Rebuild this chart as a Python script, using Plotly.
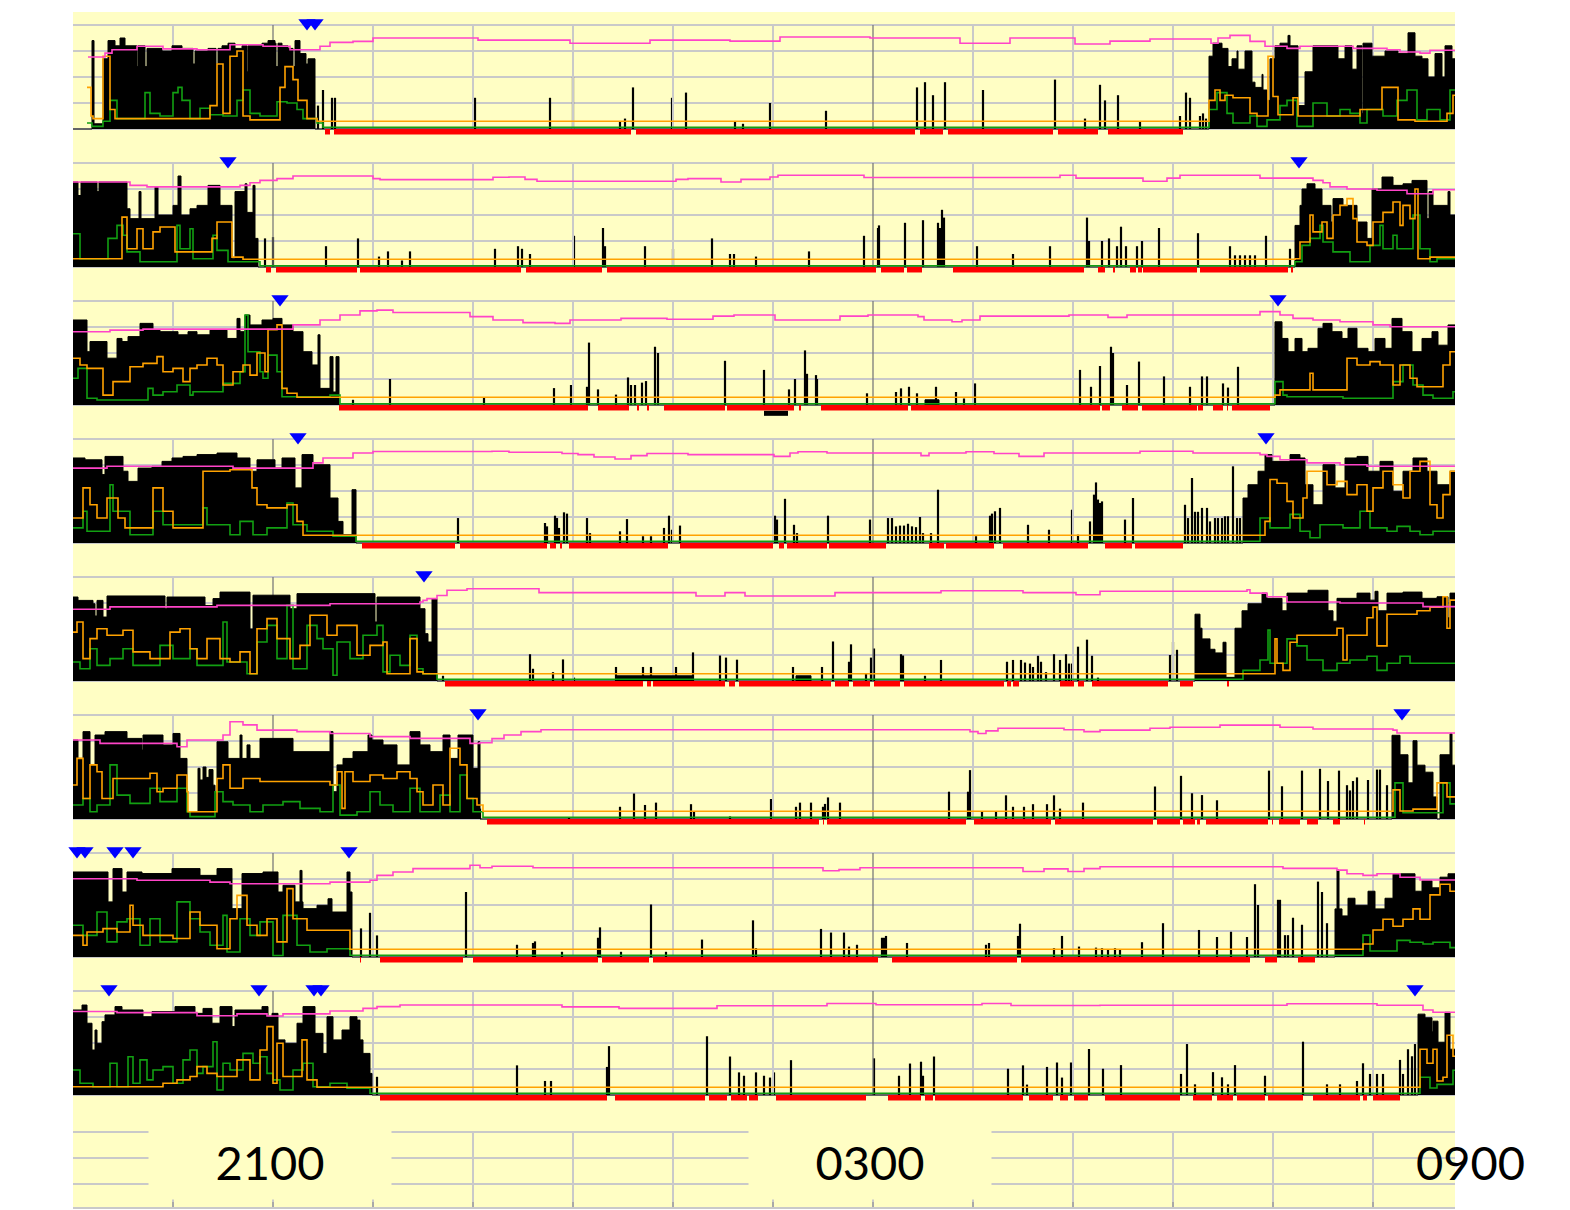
import plotly.graph_objects as go
from plotly.subplots import make_subplots

# ---------------- time axis (hours after 19:00) ----------------
GRID_HOURS = [1, 3, 4, 5, 6, 7, 9, 10, 11, 12, 13]
MAJOR_HOURS = [2, 8]
TICK_HOURS = [2, 8, 14]
TICK_LABELS = ["2100", "0300", "0900"]

# ---------------- night 1 ----------------
ACT1 = [(0.00,0),(0.19,3.4),(0.21,0.2),(0.30,2.7),(0.35,3.4),(0.42,3.2),(0.47,3.5),(0.52,3.2),(0.64,2.4),(0.65,3.2),(0.72,2.4),(0.74,3.1),(0.89,3.0),(0.99,3.2),(1.09,3.1),(1.20,2.5),(1.22,3.0),(1.35,3.1),(1.43,2.5),(1.45,3.1),(1.49,3.2),(1.55,3.3),(1.62,3.1),(1.69,3.2),(1.74,2.2),(1.75,3.2),(1.89,3.3),(1.95,3.4),(2.02,3.3),(2.03,2.4),(2.05,3.3),(2.09,3.2),(2.15,3.1),(2.20,2.4),(2.22,3.4),(2.27,2.9),(2.33,2.5),(2.35,2.7),(2.42,0),
        (11.36,2.8),(11.40,3.3),(11.49,3.1),(11.55,2.4),(11.59,2.7),(11.64,3.0),(11.65,2.3),(11.72,3.0),(11.79,1.8),(11.82,1.6),(11.89,2.1),(11.90,1.5),(11.94,1.1),(11.97,2.7),(12.02,3.2),(12.07,3.3),(12.15,3.6),(12.17,3.2),(12.25,0.9),(12.32,2.2),(12.40,3.2),(12.65,2.7),(12.72,3.2),(12.79,2.3),(12.84,3.2),(12.89,0.6),(12.90,3.3),(12.99,2.8),(13.12,3.0),(13.25,2.9),(13.35,3.7),(13.42,2.8),(13.49,2.7),(13.55,2.0),(13.62,2.9),(13.69,2.0),(13.72,3.2),(13.79,2.7),(13.90,2.7)]
SPK1 = [(2.45,0.9),(2.50,1.5),(2.59,1.2),(2.62,1.2),(4.02,1.2),(4.77,1.2),(5.00,2.0),(5.47,0.3),(5.52,0.4),(5.60,1.6),(5.99,1.2),(6.13,1.4),(6.62,0.3),(6.70,0.2),(6.97,1.0),(7.53,0.7),(8.44,1.6),(8.52,1.8),(8.60,1.3),(8.72,1.8),(9.10,1.5),(9.82,1.9),(10.12,0.4),(10.27,1.7),(10.32,1.1),(10.45,1.3),(10.67,0.3),(11.07,0.5),(11.13,1.4),(11.17,1.2),(11.27,0.5),(11.30,0.6),(11.33,0.4)]
ORG1 = [(0.14,1.6),(0.18,0.5),(0.20,0.4),(0.30,2.8),(0.37,0.75),(0.42,0.4),(1.37,0.9),(1.44,2.5),(1.50,0.6),(1.57,2.8),(1.64,3.0),(1.70,0.5),(1.77,0.35),(2.07,1.6),(2.12,2.4),(2.20,1.9),(2.25,1.1),(2.34,0.4),(2.44,0.3),(11.36,1.1),(11.42,1.5),(11.47,1.1),(11.52,1.3),(11.60,1.2),(11.77,0.6),(11.84,0.5),(11.95,2.8),(12.00,1.25),(12.05,0.55),(12.20,1.2),(12.25,0.5),(12.87,0.75),(13.09,1.6),(13.25,0.35),(13.42,0.3),(13.74,0.6),(13.80,1.3),(13.90,1.3)]
GRN1 = [(0.14,0.23),(0.19,0.1),(0.30,0.3),(0.37,1.1),(0.44,0.4),(0.72,1.4),(0.77,0.6),(0.87,0.5),(1.00,1.4),(1.05,1.6),(1.09,1.1),(1.17,0.4),(1.27,0.8),(1.37,0.55),(1.50,0.5),(1.64,1.1),(1.70,1.5),(1.77,0.6),(1.87,0.5),(2.04,1.05),(2.14,1.0),(2.24,0.75),(2.30,0.4),(2.44,0.23),(2.50,0.07),(11.36,0.75),(11.44,1.4),(11.54,0.6),(11.60,0.23),(11.77,0.5),(11.84,0.1),(11.94,0.35),(12.07,0.9),(12.14,1.1),(12.24,0.1),(12.40,1.0),(12.54,0.5),(12.67,0.75),(12.77,0.6),(12.87,0.23),(12.94,0.75),(13.10,0.5),(13.24,1.1),(13.34,1.5),(13.44,0.35),(13.54,0.75),(13.67,0.35),(13.77,1.5),(13.90,1.5)]
PNK1 = [(0.15,2.77),(0.32,2.92),(0.39,3.05),(0.64,3.18),(0.90,3.08),(1.24,3.05),(1.57,3.24),(1.90,3.18),(2.17,3.05),(2.47,3.18),(2.57,3.33),(2.80,3.37),(3.00,3.5),(4.05,3.42),(4.97,3.3),(5.77,3.42),(6.57,3.38),(7.07,3.54),(7.97,3.5),(8.87,3.3),(9.37,3.5),(10.02,3.27),(10.37,3.38),(10.77,3.46),(11.38,3.3),(11.45,3.5),(11.57,3.6),(11.77,3.37),(11.92,3.18),(12.14,3.1),(12.27,3.18),(12.80,3.1),(13.14,3.05),(13.27,2.96),(13.47,2.92),(13.57,3.03),(13.90,3.03)]
RED1 = [(2.52,2.57),(2.61,5.58),(5.63,8.42),(8.47,8.70),(8.75,9.80),(9.85,10.25),(10.35,11.10)]
MRK1 = [2.34, 2.42]
OFF1 = []

# ---------------- night 2 ----------------
ACT2 = [(0.00,3.27),(0.05,2.75),(0.08,3.27),(0.24,2.9),(0.26,3.27),(0.54,2.24),(0.57,1.86),(0.66,2.9),(0.68,1.86),(0.82,3.08),(0.85,2.0),(1.00,2.37),(1.05,3.5),(1.08,2.0),(1.17,2.24),(1.24,2.37),(1.35,3.14),(1.47,2.37),(1.59,0.32),(1.62,2.9),(1.72,3.2),(1.74,2.1),(1.80,3.14),(1.82,1.1),(1.85,0),
        (12.22,1.6),(12.27,2.37),(12.29,3.0),(12.34,3.2),(12.42,3.0),(12.49,2.37),(12.58,1.73),(12.60,2.63),(12.70,2.37),(12.84,1.73),(12.94,1.1),(12.99,3.0),(13.09,3.46),(13.20,3.14),(13.30,3.2),(13.39,3.33),(13.54,1.86),(13.56,2.9),(13.60,2.37),(13.75,2.9),(13.77,2.0),(13.90,2.0)]
SPK2 = [(1.92,1.1),(2.00,1.15),(2.53,0.8),(2.85,1.1),(3.06,0.4),(3.15,0.6),(3.29,0.25),(3.37,0.6),(4.22,0.7),(4.45,0.8),(4.49,0.7),(4.57,0.5),(5.01,1.2),(5.30,1.5),(5.32,0.8),(5.72,0.8),(6.00,0.7),(6.39,1.1),(6.57,0.5),(6.61,0.5),(6.83,0.4),(7.36,0.6),(7.91,1.2),(8.05,1.5),(8.06,1.6),(8.32,1.7),(8.50,1.8),(8.65,1.7),(8.67,1.5),(8.69,2.2),(8.71,1.9),(9.04,0.8),(9.40,0.5),(9.77,0.8),(10.14,1.9),(10.16,1.0),(10.29,1.0),(10.36,1.1),(10.44,0.8),(10.48,1.55),(10.53,0.8),(10.64,0.8),(10.69,1.0),(10.86,1.5),(11.25,1.3),(11.57,0.8),(11.62,0.45),(11.67,0.45),(11.72,0.45),(11.77,0.45),(11.82,0.45),(11.93,1.2),(12.17,0.7)]
ORG2 = [(0.00,0.32),(0.49,1.92),(0.54,0.7),(0.64,1.47),(0.70,0.7),(0.80,1.35),(0.87,1.54),(1.02,0.58),(1.39,1.1),(1.44,1.73),(1.59,0.38),(1.70,0.3),(12.22,0.32),(12.27,0.96),(12.37,2.0),(12.40,1.35),(12.49,1.73),(12.54,1.1),(12.60,2.0),(12.67,2.37),(12.74,2.63),(12.80,1.86),(12.84,0.96),(12.94,0.83),(13.00,1.73),(13.10,2.1),(13.20,2.5),(13.27,1.6),(13.30,2.37),(13.37,1.86),(13.42,3.0),(13.45,0.32),(13.57,0.38),(13.90,0.38)]
GRN2 = [(0.00,1.28),(0.07,0.32),(0.35,1.1),(0.44,1.6),(0.50,1.22),(0.54,0.58),(0.67,0.2),(1.04,1.6),(1.07,0.7),(1.17,1.47),(1.20,0.32),(1.40,1.22),(1.44,0.64),(1.55,0.2),(1.87,0.05),(12.22,0.2),(12.29,0.83),(12.37,1.1),(12.47,1.6),(12.50,0.96),(12.60,0.58),(12.77,0.2),(12.97,0.83),(13.07,1.6),(13.10,0.7),(13.20,1.22),(13.24,0.7),(13.40,2.0),(13.47,0.7),(13.57,0.2),(13.64,0.32),(13.90,0.32)]
PNK2 = [(0.00,3.27),(0.57,3.14),(0.74,3.08),(1.67,3.14),(1.77,3.24),(1.87,3.33),(2.04,3.4),(2.20,3.5),(3.00,3.4),(3.07,3.36),(4.20,3.45),(4.36,3.46),(4.52,3.37),(4.64,3.3),(6.03,3.37),(6.15,3.4),(6.48,3.27),(6.68,3.37),(6.97,3.46),(7.05,3.53),(7.91,3.44),(9.87,3.53),(10.03,3.42),(10.70,3.3),(10.94,3.42),(11.07,3.53),(11.87,3.42),(12.40,3.33),(12.50,3.24),(12.57,3.08),(12.74,3.0),(13.04,2.95),(13.34,2.82),(13.60,2.97),(13.90,2.97)]
RED2 = [(1.93,1.98),(2.03,2.84),(2.87,4.48),(4.53,5.29),(5.34,8.03),(8.08,8.31),(8.34,8.49),(8.80,10.11),(10.25,10.32),(10.40,10.42),(10.57,10.63),(10.65,10.69),(10.70,11.24),(11.27,12.15),(12.18,12.20)]
MRK2 = [1.55, 12.26]
OFF2 = []

# ---------------- night 3 ----------------
ACT3 = [(0.00,3.27),(0.14,2.05),(0.17,2.44),(0.34,1.8),(0.44,2.56),(0.49,2.44),(0.55,2.63),(0.67,3.14),(0.80,2.88),(0.87,2.82),(1.05,2.7),(1.15,2.82),(1.24,2.7),(1.37,2.88),(1.54,2.56),(1.64,3.33),(1.67,2.82),(1.72,3.46),(1.77,3.08),(1.89,3.27),(2.00,3.33),(2.09,3.08),(2.20,2.82),(2.30,2.05),(2.39,1.54),(2.45,2.7),(2.47,0.64),(2.57,1.86),(2.60,0.5),(2.63,1.86),(2.66,0),
        (8.52,0.2),(8.66,0),
        (12.02,3.2),(12.09,2.56),(12.15,2.05),(12.22,2.56),(12.29,2.05),(12.35,2.18),(12.45,2.95),(12.50,3.14),(12.59,2.82),(12.69,2.56),(12.75,2.95),(12.84,2.18),(12.95,2.05),(13.02,2.56),(13.12,2.18),(13.19,3.33),(13.29,2.82),(13.39,2.05),(13.49,2.56),(13.59,2.82),(13.65,2.3),(13.75,3.08),(13.90,3.08)]
SPK3 = [(2.80,0.2),(3.17,1.0),(4.11,0.3),(4.81,0.65),(4.98,0.77),(5.14,0.7),(5.16,2.4),(5.25,0.6),(5.43,0.4),(5.55,1.06),(5.58,0.77),(5.62,0.77),(5.69,0.86),(5.73,0.92),(5.82,2.24),(5.85,2.0),(6.52,1.7),(6.91,1.35),(7.16,0.6),(7.22,1.0),(7.32,2.1),(7.34,1.2),(7.43,1.15),(7.44,1.0),(7.94,0.45),(8.23,0.5),(8.28,0.64),(8.36,0.7),(8.44,0.45),(8.63,0.7),(8.83,0.5),(8.91,0.25),(9.02,0.83),(10.07,1.35),(10.18,0.7),(10.27,1.5),(10.38,2.24),(10.40,2.0),(10.54,0.77),(10.66,1.67),(10.91,1.1),(11.17,0.7),(11.29,1.1),(11.34,1.1),(11.50,0.83),(11.55,0.67),(11.65,1.47)]
ORG3 = [(0.00,1.8),(0.07,1.54),(0.14,1.41),(0.30,0.38),(0.40,0.9),(0.57,1.47),(0.70,1.6),(0.84,1.86),(0.90,1.28),(1.00,1.41),(1.10,0.9),(1.17,1.41),(1.24,1.54),(1.34,1.8),(1.44,1.54),(1.50,0.77),(1.60,1.28),(1.70,1.54),(1.77,1.15),(1.84,2.0),(1.92,1.28),(1.95,2.9),(2.04,3.08),(2.09,0.64),(2.14,0.45),(2.24,0.3),(12.02,0.38),(12.07,0.58),(12.37,1.22),(12.40,0.58),(12.74,1.8),(12.84,1.54),(12.97,1.67),(13.07,1.54),(13.20,0.77),(13.27,1.54),(13.37,1.03),(13.44,0.7),(13.70,1.54),(13.77,2.05),(13.90,2.05)]
GRN3 = [(0.00,1.03),(0.05,1.41),(0.14,0.26),(0.24,0.19),(0.75,0.64),(0.80,0.38),(0.90,0.51),(1.04,0.77),(1.17,0.38),(1.20,0.51),(1.50,0.83),(1.67,1.28),(1.72,3.46),(1.75,2.05),(1.87,1.28),(1.90,1.03),(1.95,1.92),(2.04,1.28),(2.09,0.32),(2.57,0.38),(2.67,0.05),(12.02,0.9),(12.10,0.38),(12.14,0.32),(12.70,0.26),(13.20,0.9),(13.30,1.54),(13.40,0.77),(13.50,0.38),(13.60,0.26),(13.80,0.51),(13.90,0.51)]
PNK3 = [(0.00,2.82),(0.37,2.88),(0.70,2.92),(2.20,3.08),(2.47,3.27),(2.67,3.46),(2.87,3.62),(3.04,3.65),(3.20,3.56),(3.97,3.4),(4.20,3.27),(4.50,3.17),(4.82,3.14),(4.97,3.27),(5.48,3.33),(5.94,3.3),(6.40,3.42),(6.61,3.46),(7.02,3.27),(7.67,3.42),(7.95,3.46),(8.45,3.4),(8.51,3.27),(8.79,3.2),(8.89,3.27),(9.07,3.42),(9.96,3.46),(10.35,3.37),(10.54,3.46),(11.87,3.59),(12.07,3.46),(12.20,3.33),(12.40,3.27),(12.67,3.2),(13.00,3.08),(13.17,3.01),(13.90,3.01)]
RED3 = [(2.66,5.15),(5.25,5.56),(5.64,5.66),(5.74,5.76),(5.91,6.52),(6.54,7.21),(7.26,7.28),(7.48,8.35),(8.38,10.27),(10.29,10.37),(10.49,10.65),(10.69,11.24),(11.25,11.30),(11.40,11.50),(11.54,11.55),(11.59,11.97)]
MRK3 = [2.07, 12.05]
OFF3 = [(6.91, 7.15)]

# ---------------- night 4 ----------------
ACT4 = [(0.00,3.27),(0.12,3.2),(0.29,2.63),(0.32,3.33),(0.50,2.76),(0.55,2.37),(0.65,2.88),(0.79,2.95),(0.89,3.14),(0.99,3.27),(1.10,3.33),(1.24,3.4),(1.44,3.46),(1.64,3.27),(1.77,2.76),(1.84,3.2),(2.02,2.88),(2.09,3.27),(2.22,2.12),(2.29,3.4),(2.40,3.01),(2.57,1.73),(2.65,0.83),(2.70,0.32),(2.79,2.05),(2.83,0),
        (11.70,1.73),(11.75,2.24),(11.85,2.76),(11.92,3.4),(11.99,3.14),(12.17,3.4),(12.27,3.27),(12.32,2.24),(12.40,1.47),(12.50,3.01),(12.62,2.12),(12.72,3.27),(12.84,3.33),(12.95,2.76),(13.07,3.14),(13.20,1.99),(13.30,2.76),(13.40,3.27),(13.54,2.76),(13.64,2.24),(13.77,2.76),(13.90,2.76)]
SPK4 = [(3.85,0.96),(4.72,0.77),(4.74,0.64),(4.82,1.05),(4.84,0.96),(4.86,0.58),(4.91,1.18),(4.94,1.13),(5.14,0.96),(5.17,0.38),(5.47,0.45),(5.54,0.92),(5.70,0.26),(5.78,0.26),(5.91,0.58),(5.96,1.05),(5.99,0.51),(6.07,0.67),(7.02,1.05),(7.04,0.9),(7.12,1.7),(7.21,0.7),(7.24,0.38),(7.55,1.05),(7.97,0.9),(8.15,0.96),(8.19,0.96),(8.23,0.64),(8.27,0.67),(8.31,0.67),(8.35,0.74),(8.39,0.64),(8.43,0.61),(8.47,1.0),(8.50,0.38),(8.58,0.38),(8.65,2.05),(9.03,0.26),(9.17,1.05),(9.19,1.13),(9.22,1.22),(9.27,1.35),(9.55,0.7),(9.76,0.51),(9.99,1.28),(10.05,0.32),(10.17,0.83),(10.21,1.86),(10.23,2.33),(10.25,1.67),(10.27,1.54),(10.29,1.6),(10.52,0.9),(10.60,1.73),(11.12,1.47),(11.15,0.96),(11.19,2.5),(11.22,1.2),(11.25,1.2),(11.29,1.35),(11.34,1.35),(11.37,0.83),(11.42,0.96),(11.45,0.96),(11.49,0.96),(11.52,1.03),(11.55,1.03),(11.60,2.95),(11.64,0.96),(11.67,0.96)]
ORG4 = [(0.00,0.96),(0.10,2.12),(0.17,1.47),(0.24,0.96),(0.34,1.73),(0.45,0.96),(0.52,0.58),(0.80,2.12),(0.90,1.22),(1.00,0.58),(1.30,2.76),(1.57,2.82),(1.79,2.12),(1.84,1.47),(1.94,1.35),(2.14,1.47),(2.24,0.83),(2.30,0.3),(11.92,0.83),(11.97,2.44),(12.04,2.3),(12.14,1.6),(12.20,0.96),(12.30,1.73),(12.34,2.76),(12.54,2.24),(12.64,2.37),(12.74,1.86),(12.84,2.24),(12.94,1.22),(13.00,2.12),(13.10,2.76),(13.20,2.24),(13.30,1.73),(13.37,2.76),(13.47,3.14),(13.57,1.47),(13.64,0.96),(13.70,1.86),(13.77,2.76),(13.90,2.76)]
GRN4 = [(0.00,0.58),(0.10,1.22),(0.14,0.45),(0.37,2.24),(0.40,1.22),(0.57,0.32),(0.80,1.22),(0.90,0.7),(1.30,1.35),(1.34,0.7),(1.57,0.32),(1.67,0.83),(1.80,0.32),(1.94,0.58),(2.14,1.54),(2.20,0.7),(2.34,0.45),(2.60,0.26),(2.83,0.07),(11.87,0.96),(11.97,0.58),(12.17,1.1),(12.27,0.45),(12.37,0.2),(12.47,0.7),(12.70,0.58),(12.87,1.22),(12.97,0.58),(13.14,0.45),(13.24,0.64),(13.37,0.45),(13.47,0.32),(13.60,0.45),(13.90,0.45)]
PNK4 = [(0.00,2.88),(0.34,2.95),(1.60,2.88),(2.40,3.08),(2.50,3.27),(2.80,3.46),(3.00,3.52),(4.19,3.53),(4.36,3.49),(4.89,3.44),(5.05,3.4),(5.21,3.31),(5.42,3.23),(5.58,3.36),(5.74,3.44),(6.15,3.4),(7.01,3.33),(7.17,3.46),(7.25,3.51),(7.54,3.46),(8.48,3.36),(8.56,3.46),(8.93,3.51),(9.21,3.44),(9.46,3.33),(9.71,3.46),(10.67,3.53),(11.20,3.46),(11.87,3.4),(11.94,3.33),(12.07,3.2),(12.34,3.08),(12.67,3.01),(12.94,2.95),(13.90,2.95)]
RED4 = [(2.89,3.82),(3.87,4.74),(4.77,4.83),(4.87,4.89),(4.96,5.95),(6.07,7.00),(7.06,7.11),(7.14,7.54),(7.56,8.13),(8.56,8.71),(8.73,9.21),(9.30,10.15),(10.32,10.59),(10.62,11.10)]
MRK4 = [2.25, 11.93]
OFF4 = []

# ---------------- night 5 ----------------
ACT5 = [(0.00,3.23),(0.05,3.1),(0.20,2.97),(0.22,2.5),(0.24,3.1),(0.30,2.46),(0.34,3.27),(0.92,2.78),(0.94,3.23),(1.32,2.9),(1.40,3.17),(1.47,3.42),(1.77,2.0),(1.80,3.3),(2.17,2.78),(2.24,3.36),(3.02,2.27),(3.04,3.23),(3.47,2.78),(3.52,1.82),(3.55,1.5),(3.59,3.17),(3.64,0),
        (5.43,0.2),(6.20,0),(7.23,0.2),(7.38,0),
        (11.22,2.57),(11.27,2.03),(11.29,1.62),(11.37,1.22),(11.42,1.08),(11.50,1.49),(11.53,0.14),(11.62,2.03),(11.69,2.7),(11.75,2.97),(11.89,3.38),(11.94,3.18),(12.09,2.7),(12.14,3.38),(12.35,3.49),(12.55,2.7),(12.60,2.3),(12.64,3.18),(12.84,3.38),(12.97,3.11),(13.02,3.45),(13.05,2.7),(13.14,3.38),(13.30,3.42),(13.49,3.18),(13.64,3.24),(13.75,2.43),(13.77,3.38),(13.90,3.38)]
SPK5 = [(3.70,0.2),(4.57,1.03),(4.60,0.47),(4.80,0.34),(4.90,0.83),(5.01,0.13),(5.43,0.54),(5.70,0.54),(5.78,0.54),(6.03,0.54),(6.20,1.1),(6.47,0.98),(6.53,0.9),(6.64,0.82),(7.20,0.54),(7.49,0.54),(7.60,1.52),(7.76,0.74),(7.78,1.41),(7.93,0.3),(7.98,0.9),(8.01,1.25),(8.28,1.03),(8.30,0.98),(8.52,0.2),(8.68,0.81),(9.34,0.74),(9.40,0.81),(9.48,0.81),(9.52,0.71),(9.57,0.67),(9.60,0.54),(9.65,0.97),(9.68,0.74),(9.73,0.34),(9.81,1.03),(9.87,0.81),(9.93,1.03),(9.96,0.67),(9.99,0.67),(10.05,1.32),(10.14,1.59),(10.19,0.97),(10.25,0.13),(10.97,1.0),(11.00,1.5),(11.04,1.2)]
ORG5 = [(0.00,1.88),(0.04,2.27),(0.10,0.86),(0.17,1.63),(0.24,2.01),(0.34,1.76),(0.50,1.95),(0.60,1.12),(0.77,0.86),(0.97,1.88),(1.07,2.01),(1.17,1.24),(1.24,0.86),(1.34,1.63),(1.47,0.86),(1.57,0.73),(1.67,1.12),(1.77,0.28),(1.84,2.01),(1.94,2.4),(2.04,1.63),(2.17,0.86),(2.27,1.37),(2.37,2.53),(2.54,1.76),(2.64,2.14),(2.84,0.99),(2.97,1.37),(3.10,1.5),(3.14,0.28),(3.37,1.63),(3.44,0.35),(3.50,0.28),(12.02,1.62),(12.04,0.68),(12.10,0.41),(12.17,1.49),(12.24,1.76),(12.64,2.03),(12.70,0.81),(12.74,1.76),(12.94,2.43),(13.00,2.84),(13.04,1.35),(13.14,2.57),(13.44,2.7),(13.57,2.84),(13.70,3.24),(13.74,2.03),(13.77,3.11),(13.90,3.11)]
GRN5 = [(0.00,0.73),(0.07,0.47),(0.17,1.24),(0.24,0.6),(0.37,0.86),(0.50,1.24),(0.60,0.6),(0.87,1.37),(1.00,0.86),(1.17,1.24),(1.24,0.6),(1.50,2.27),(1.54,0.73),(1.74,0.28),(1.84,1.5),(1.94,2.14),(2.04,0.86),(2.14,2.91),(2.20,0.47),(2.34,2.14),(2.44,1.63),(2.50,1.24),(2.60,0.22),(2.64,1.5),(2.77,0.86),(2.90,1.76),(3.04,2.14),(3.10,0.35),(3.17,0.99),(3.27,0.6),(3.37,1.76),(3.44,0.47),(3.50,0.28),(3.64,0.07),(11.70,0.41),(11.87,0.81),(11.95,1.96),(11.97,0.68),(12.14,1.62),(12.24,1.35),(12.34,0.81),(12.50,0.41),(12.64,0.68),(12.77,0.81),(12.94,0.95),(13.04,0.41),(13.14,0.68),(13.27,0.95),(13.37,0.68),(13.90,0.68)]
PNK5 = [(0.00,2.76),(0.37,2.85),(1.44,2.91),(2.57,2.97),(3.47,3.04),(3.50,3.1),(3.54,3.17),(3.64,3.29),(3.74,3.49),(3.94,3.55),(4.66,3.4),(6.23,3.27),(6.52,3.4),(6.72,3.27),(7.62,3.4),(8.68,3.47),(9.50,3.4),(10.03,3.32),(10.27,3.45),(11.74,3.51),(11.77,3.38),(11.94,3.24),(12.14,3.04),(12.67,3.0),(13.50,2.86),(13.90,2.86)]
RED5 = [(3.72,5.70),(5.74,5.78),(5.80,6.52),(6.56,6.62),(6.66,7.58),(7.62,7.76),(7.80,7.97),(8.01,8.27),(8.31,9.31),(9.34,9.38),(9.40,9.46),(9.87,10.01),(10.05,10.11),(10.19,10.95),(11.07,11.20),(11.54,11.56)]
MRK5 = [3.51]
OFF5 = []

# ---------------- night 6 ----------------
ACT6 = [(0.00,3.04),(0.05,2.33),(0.10,3.36),(0.17,2.08),(0.22,3.23),(0.32,3.36),(0.54,3.1),(0.69,2.65),(0.70,3.23),(0.90,2.85),(1.00,3.29),(1.07,2.33),(1.14,0.28),(1.25,1.95),(1.27,1.5),(1.30,2.0),(1.33,1.6),(1.36,1.9),(1.40,1.3),(1.42,1.05),(1.44,2.97),(1.55,2.33),(1.67,3.23),(1.69,2.33),(1.74,2.85),(1.77,2.33),(1.87,3.1),(2.20,2.59),(2.57,3.36),(2.60,1.05),(2.64,2.08),(2.70,2.33),(2.80,2.59),(2.95,3.23),(2.99,3.04),(3.10,2.85),(3.24,2.08),(3.37,3.36),(3.47,2.85),(3.57,2.59),(3.70,3.23),(3.77,2.33),(3.85,3.23),(4.00,1.95),(4.05,2.97),(4.07,0),
        (13.19,3.22),(13.27,2.47),(13.35,1.39),(13.40,3.01),(13.44,2.07),(13.52,1.8),(13.60,0.85),(13.64,0),(13.67,2.47),(13.77,3.28),(13.79,2.07),(13.90,2.07)]
SPK6 = [(4.07,0.4),(4.96,0.07),(5.47,0.47),(5.61,0.98),(5.72,0.54),(5.83,0.63),(6.18,0.57),(6.21,0.3),(6.57,0.1),(6.98,0.77),(7.23,0.47),(7.27,0.63),(7.38,0.63),(7.50,0.47),(7.52,0.58),(7.55,0.83),(7.67,0.63),(8.76,1.05),(8.95,1.05),(8.97,1.88),(9.09,0.3),(9.23,0.3),(9.33,0.91),(9.40,0.47),(9.51,0.47),(9.60,0.57),(9.74,0.57),(9.81,0.91),(9.87,0.4),(10.10,0.63),(10.82,1.25),(11.08,1.66),(11.19,0.99),(11.29,0.92),(11.44,0.72),(11.96,1.86),(12.09,1.26),(12.29,1.86),(12.47,1.93),(12.55,1.46),(12.66,1.86),(12.74,1.3),(12.77,1.1),(12.80,1.46),(12.84,1.6),(12.95,1.5),(13.04,1.9),(13.07,1.9),(13.14,1.3)]
ORG6 = [(0.00,1.31),(0.04,2.33),(0.10,0.79),(0.17,2.08),(0.24,1.82),(0.29,0.79),(0.40,1.56),(0.77,1.76),(0.84,1.05),(0.90,1.18),(1.04,1.69),(1.14,1.05),(1.15,0.28),(1.44,1.56),(1.50,2.08),(1.57,1.18),(1.70,1.56),(1.87,1.44),(2.57,1.31),(2.64,1.82),(2.69,0.41),(2.72,1.82),(2.80,1.44),(2.97,1.69),(3.10,1.56),(3.24,1.82),(3.37,1.56),(3.44,1.05),(3.50,0.54),(3.60,1.31),(3.70,0.54),(3.77,2.72),(3.87,2.08),(3.94,0.79),(4.04,0.54),(4.10,0.3),(13.20,1.12),(13.27,0.31),(13.40,0.38),(13.64,1.39),(13.74,0.85),(13.90,0.85)]
GRN6 = [(0.00,0.54),(0.10,0.79),(0.17,0.28),(0.24,0.54),(0.37,2.08),(0.44,0.92),(0.57,0.6),(0.77,1.18),(0.87,0.67),(1.04,1.18),(1.14,0.28),(1.17,0.09),(1.42,1.05),(1.50,0.67),(1.60,0.54),(1.77,0.28),(1.90,0.54),(2.10,0.67),(2.27,0.41),(2.47,0.28),(2.60,1.31),(2.67,0.15),(2.84,0.28),(2.97,1.05),(3.07,0.54),(3.20,0.28),(3.37,1.18),(3.47,0.28),(3.67,0.92),(3.77,0.28),(3.87,1.69),(3.94,0.79),(4.00,0.28),(4.10,0.07),(13.19,0.07),(13.22,1.39),(13.30,0.24),(13.70,1.39),(13.77,0.58),(13.90,0.58)]
PNK6 = [(0.00,3.04),(0.27,2.91),(1.04,2.78),(1.14,3.04),(1.50,3.23),(1.57,3.74),(1.70,3.62),(1.84,3.42),(2.24,3.36),(2.57,3.29),(2.97,3.17),(3.37,3.1),(3.97,2.91),(4.07,2.93),(4.19,3.09),(4.31,3.23),(4.48,3.36),(4.68,3.43),(8.97,3.36),(9.05,3.29),(9.13,3.39),(9.25,3.49),(9.91,3.43),(10.11,3.36),(10.27,3.42),(10.77,3.49),(10.97,3.53),(11.47,3.61),(12.07,3.53),(12.40,3.46),(13.20,3.42),(13.24,3.31),(13.90,3.31)]
RED6 = [(4.14,7.46),(7.50,7.51),(7.54,8.93),(9.01,9.78),(9.82,10.80),(10.84,11.07),(11.10,11.22),(11.24,11.27),(11.33,11.95),(11.99,12.00),(12.06,12.27),(12.34,12.45),(12.60,12.67),(12.91,12.92)]
MRK6 = [4.05, 13.29]
OFF6 = []

# ---------------- night 7 ----------------
ACT7 = [(0.00,3.27),(0.35,2.12),(0.40,3.4),(0.49,2.5),(0.54,3.27),(0.69,3.21),(0.99,3.4),(1.27,3.14),(1.44,3.4),(1.59,1.86),(1.69,3.21),(1.90,3.27),(2.05,2.5),(2.10,2.76),(2.22,2.12),(2.27,3.33),(2.29,2.12),(2.30,1.86),(2.44,1.99),(2.55,2.24),(2.59,1.73),(2.74,3.27),(2.77,2.5),(2.79,0),
        (12.62,1.85),(12.64,3.34),(12.66,1.85),(12.69,1.58),(12.75,2.26),(12.82,1.99),(12.95,2.53),(13.02,1.85),(13.12,2.26),(13.20,3.2),(13.42,2.53),(13.49,2.93),(13.59,2.66),(13.67,3.07),(13.75,3.2),(13.90,3.2)]
SPK7 = [(2.88,1.1),(2.97,1.7),(3.04,0.83),(3.93,2.5),(4.44,0.47),(4.60,0.54),(4.62,0.6),(4.89,0.2),(5.25,0.74),(5.27,1.14),(5.48,0.2),(5.78,2.02),(5.93,0.2),(6.29,0.67),(6.80,1.41),(6.83,0.34),(7.48,1.08),(7.58,0.94),(7.71,0.94),(7.76,0.4),(7.84,0.47),(8.09,0.74),(8.11,0.74),(8.13,0.81),(8.34,0.54),(9.13,0.47),(9.16,0.54),(9.45,0.81),(9.47,1.28),(9.81,0.34),(9.89,0.81),(10.06,0.4),(10.23,0.36),(10.29,0.34),(10.35,0.3),(10.42,0.34),(10.47,0.3),(10.69,0.57),(10.90,1.3),(11.26,1.04),(11.44,0.77),(11.58,0.97),(11.74,0.77),(11.82,2.8),(11.85,2.0),(12.05,2.2),(12.07,2.2),(12.12,0.84),(12.15,0.84),(12.20,1.51),(12.29,1.24),(12.45,2.9),(12.49,2.5),(12.54,1.3)]
ORG7 = [(0.00,0.83),(0.10,0.45),(0.14,0.96),(0.30,1.09),(0.44,0.96),(0.57,1.99),(0.60,1.22),(0.70,0.83),(1.00,0.71),(1.17,1.73),(1.27,1.22),(1.44,0.32),(1.57,1.47),(1.64,2.37),(1.74,1.22),(1.84,0.83),(1.94,1.47),(2.04,0.58),(2.14,2.63),(2.20,1.47),(2.34,1.03),(2.77,0.3),(12.90,0.5),(13.00,1.04),(13.10,1.45),(13.20,1.18),(13.30,1.45),(13.40,1.85),(13.47,1.45),(13.57,2.39),(13.67,2.8),(13.77,2.53),(13.90,2.53)]
GRN7 = [(0.00,1.22),(0.10,0.83),(0.24,1.73),(0.34,0.58),(0.44,1.35),(0.54,1.47),(0.67,0.45),(0.77,1.47),(0.87,0.58),(1.04,2.12),(1.17,1.47),(1.27,0.96),(1.37,0.45),(1.50,1.6),(1.54,0.19),(1.67,1.47),(1.77,0.83),(1.87,1.35),(2.00,0.06),(2.10,1.6),(2.24,0.45),(2.37,0.19),(2.54,0.32),(2.77,0.07),(12.90,0.84),(12.97,0.23),(13.24,0.64),(13.37,0.57),(13.50,0.5),(13.60,0.57),(13.77,0.36),(13.90,0.36)]
PNK7 = [(0.00,3.01),(0.64,2.95),(1.37,2.88),(1.57,2.82),(2.57,2.88),(2.97,2.95),(3.04,3.14),(3.20,3.27),(3.40,3.4),(3.97,3.53),(4.07,3.43),(4.19,3.49),(4.60,3.43),(7.50,3.32),(7.66,3.36),(7.87,3.43),(9.50,3.29),(9.71,3.39),(9.95,3.29),(10.11,3.4),(10.27,3.47),(12.10,3.41),(12.64,3.34),(12.74,3.2),(12.90,3.14),(13.04,3.2),(13.27,3.07),(13.47,2.96),(13.90,2.96)]
RED7 = [(2.87,2.88),(3.07,3.90),(4.00,5.25),(5.29,5.76),(5.80,8.05),(8.19,9.44),(9.48,11.77),(11.92,12.04),(12.25,12.42)]
MRK7 = [0.04, 0.12, 0.42, 0.60, 2.76]
OFF7 = []

# ---------------- night 8 ----------------
ACT8 = [(0.00,3.27),(0.09,3.46),(0.14,2.76),(0.19,1.73),(0.22,2.5),(0.24,1.99),(0.29,2.82),(0.32,3.08),(0.42,3.4),(0.49,3.27),(0.70,3.01),(0.79,3.21),(1.02,3.4),(1.22,3.14),(1.30,3.33),(1.39,2.76),(1.47,3.4),(1.59,2.63),(1.62,3.27),(1.89,3.4),(1.95,3.01),(1.99,3.14),(2.05,2.12),(2.12,1.99),(2.24,2.76),(2.30,3.4),(2.42,2.37),(2.50,1.6),(2.54,3.01),(2.60,2.12),(2.69,2.5),(2.77,3.01),(2.84,2.88),(2.87,2.12),(2.90,1.6),(2.97,0.83),(2.99,0),
        (13.45,3.11),(13.52,2.97),(13.59,2.43),(13.60,2.84),(13.65,2.03),(13.72,3.18),(13.77,1.76),(13.90,1.76)]
SPK8 = [(3.04,0.7),(4.44,1.14),(4.72,0.54),(4.78,0.54),(5.34,1.08),(5.36,1.88),(6.34,2.26),(6.57,1.48),(6.66,0.87),(6.71,0.74),(6.83,0.87),(6.91,0.74),(6.97,0.67),(7.01,0.87),(7.18,1.34),(8.01,1.41),(8.26,0.74),(8.37,1.21),(8.48,1.28),(8.50,0.74),(8.61,1.48),(9.35,1.01),(9.50,1.14),(9.54,0.4),(9.74,1.08),(9.84,1.25),(9.89,0.67),(9.98,1.25),(10.16,1.77),(10.30,1.01),(10.48,1.15),(11.08,0.81),(11.14,1.96),(11.22,0.41),(11.40,0.88),(11.49,0.68),(11.55,0.41),(11.62,1.15),(11.92,0.74),(12.30,2.05),(12.54,0.41),(12.67,0.41),(12.84,0.54),(12.90,1.22),(12.97,0.81),(13.04,0.81),(13.10,0.81),(13.27,1.35),(13.30,0.81),(13.35,1.76),(13.39,1.49),(13.42,1.96)]
ORG8 = [(0.00,0.32),(0.90,0.45),(1.04,0.58),(1.17,0.71),(1.24,1.09),(1.34,0.83),(1.44,0.71),(1.64,1.35),(1.77,0.58),(1.87,1.73),(1.94,2.63),(2.00,0.45),(2.04,1.99),(2.10,0.71),(2.29,2.12),(2.34,0.58),(2.44,0.3),(13.47,1.76),(13.54,1.22),(13.60,1.76),(13.64,0.54),(13.70,0.68),(13.74,2.3),(13.80,1.49),(13.90,1.49)]
GRN8 = [(0.00,0.96),(0.07,0.45),(0.20,0.32),(0.37,1.22),(0.44,0.32),(0.55,1.47),(0.60,0.45),(0.67,1.35),(0.74,0.58),(0.80,0.96),(0.90,1.09),(1.00,0.45),(1.10,1.35),(1.17,1.73),(1.24,0.83),(1.30,1.09),(1.40,2.05),(1.44,0.19),(1.50,1.22),(1.57,0.96),(1.70,1.6),(1.80,1.22),(1.87,1.47),(1.94,0.83),(2.00,0.58),(2.07,0.19),(2.20,0.96),(2.30,1.22),(2.40,0.32),(2.57,0.45),(2.74,0.26),(2.97,0.07),(13.47,0.68),(13.57,0.27),(13.64,0.41),(13.80,0.95),(13.90,0.95)]
PNK8 = [(0.00,3.21),(0.44,3.17),(1.24,3.05),(1.64,3.12),(1.94,3.04),(2.10,3.12),(2.57,3.23),(2.90,3.33),(3.04,3.4),(3.27,3.46),(4.89,3.39),(5.46,3.33),(6.44,3.43),(7.54,3.52),(8.03,3.47),(9.09,3.52),(9.38,3.44),(10.27,3.45),(12.14,3.51),(13.04,3.45),(13.50,3.27),(13.60,3.18),(13.90,3.18)]
RED8 = [(3.07,5.34),(5.42,6.32),(6.36,6.54),(6.58,6.74),(6.76,6.85),(7.03,7.93),(8.15,8.48),(8.52,8.60),(8.62,9.50),(9.56,9.80),(9.87,9.95),(10.01,10.15),(10.32,11.07),(11.20,11.39),(11.44,11.60),(11.64,11.92),(11.95,12.30),(12.40,12.87),(12.90,12.94),(13.00,13.27)]
MRK8 = [0.36, 1.86, 2.41, 2.48, 13.42]
OFF8 = []

NIGHTS = [
    (ACT1, SPK1, ORG1, GRN1, PNK1, RED1, MRK1, OFF1),
    (ACT2, SPK2, ORG2, GRN2, PNK2, RED2, MRK2, OFF2),
    (ACT3, SPK3, ORG3, GRN3, PNK3, RED3, MRK3, OFF3),
    (ACT4, SPK4, ORG4, GRN4, PNK4, RED4, MRK4, OFF4),
    (ACT5, SPK5, ORG5, GRN5, PNK5, RED5, MRK5, OFF5),
    (ACT6, SPK6, ORG6, GRN6, PNK6, RED6, MRK6, OFF6),
    (ACT7, SPK7, ORG7, GRN7, PNK7, RED7, MRK7, OFF7),
    (ACT8, SPK8, ORG8, GRN8, PNK8, RED8, MRK8, OFF8),
]

# ---------------- styling ----------------
YELLOW = "#FFFEC4"
GRID = "#C9C9C9"
MAJOR = "#7A7A7A"
ORANGE = "#FFA200"
GREEN = "#12A012"
PINK = "#FF44C8"
RED = "#FF0000"
BLUE = "#0000FF"
X_RANGE = [0, 13.82]
PANEL_RANGE = [-0.8077, 4.5]
GRID_TOP = 4
MARK_Y = 4.08
RED_Y = -0.105
OFF_Y = -0.32

# the page body adds an 8 px offset, so the figure is laid out 8 px smaller
FIG_W, FIG_H = 1562, 1202
M_L, M_R, M_T, M_B = 65, 115, 4, 3


def unzip(pairs):
    return [p[0] for p in pairs], [p[1] for p in pairs]


def segs(hours, y0, y1):
    xs, ys = [], []
    for h in hours:
        xs += [h, h, None]
        ys += [y0, y1, None]
    return xs, ys


def intervals(pairs, y):
    xs, ys = [], []
    for a, b in pairs:
        xs += [a, b, None]
        ys += [y, y, None]
    return xs, ys


n = len(NIGHTS)
fig = make_subplots(rows=n + 1, cols=1, row_heights=[138] * n + [91], vertical_spacing=0)

for i, (act, spk, org, grn, pnk, red, mrk, off) in enumerate(NIGHTS):
    r = i + 1
    gx, gy = segs(GRID_HOURS, 0, GRID_TOP)
    fig.add_trace(go.Scatter(x=gx, y=gy, mode="lines", line=dict(color=GRID, width=2), hoverinfo="skip"), row=r, col=1)
    mx, my = segs(MAJOR_HOURS, 0, GRID_TOP)
    fig.add_trace(go.Scatter(x=mx, y=my, mode="lines", line=dict(color=MAJOR, width=1.3), hoverinfo="skip"), row=r, col=1)

    ax, ay = unzip(act)
    fig.add_trace(go.Scatter(x=ax, y=ay, mode="lines", line=dict(color="black", width=1, shape="hv"),
                             fill="tozeroy", fillcolor="black"), row=r, col=1)
    sx, sy = unzip(spk)
    fig.add_trace(go.Bar(x=sx, y=sy, width=0.022, marker=dict(color="black", line=dict(width=0))), row=r, col=1)

    rx, ry = intervals(red, RED_Y)
    fig.add_trace(go.Scatter(x=rx, y=ry, mode="lines", line=dict(color=RED, width=5.5)), row=r, col=1)
    if off:
        ox, oy = intervals(off, OFF_Y)
        fig.add_trace(go.Scatter(x=ox, y=oy, mode="lines", line=dict(color="black", width=5)), row=r, col=1)

    gx2, gy2 = unzip(grn)
    fig.add_trace(go.Scatter(x=gx2, y=gy2, mode="lines", line=dict(color=GREEN, width=1.6, shape="hv")), row=r, col=1)
    ox2, oy2 = unzip(org)
    fig.add_trace(go.Scatter(x=ox2, y=oy2, mode="lines", line=dict(color=ORANGE, width=1.6, shape="hv")), row=r, col=1)
    px, py = unzip(pnk)
    fig.add_trace(go.Scatter(x=px, y=py, mode="lines", line=dict(color=PINK, width=1.6, shape="hv")), row=r, col=1)

    fig.add_trace(go.Scatter(x=mrk, y=[MARK_Y] * len(mrk), mode="markers",
                             marker=dict(symbol="triangle-down", size=15, color=BLUE, line=dict(width=0)),
                             cliponaxis=False), row=r, col=1)

    fig.update_xaxes(row=r, col=1, range=X_RANGE, showgrid=False, zeroline=False, showticklabels=False,
                     ticks="", showline=False)
    fig.update_yaxes(row=r, col=1, range=PANEL_RANGE, tick0=0, dtick=1, showgrid=True, gridcolor=GRID,
                     gridwidth=2, zeroline=False, showticklabels=False, ticks="", showline=False)

# bottom time-axis strip
rb = n + 1
bx, by = segs(GRID_HOURS + MAJOR_HOURS, 0.115, 3)
fig.add_trace(go.Scatter(x=bx, y=by, mode="lines", line=dict(color=GRID, width=2), hoverinfo="skip"), row=rb, col=1)
fig.update_xaxes(row=rb, col=1, range=X_RANGE, showgrid=False, zeroline=False, showticklabels=False,
                 ticks="inside", ticklen=5, tickcolor="#A8A8A8", tickwidth=1.5, tick0=0, dtick=1,
                 showline=True, linecolor="#C9C9C9", linewidth=2)
fig.update_yaxes(row=rb, col=1, range=[0.115, 3.615], tick0=0, dtick=1, showgrid=True, gridcolor=GRID,
                 gridwidth=2, zeroline=False, showticklabels=False, ticks="", showline=False)

plot_h = FIG_H - M_T - M_B
label_y = (plot_h - (1162 - 8 - M_T)) / plot_h
for h, lab in zip(TICK_HOURS, TICK_LABELS):
    boxed = h < X_RANGE[1]
    xp = (h - X_RANGE[0]) / (X_RANGE[1] - X_RANGE[0])
    fig.add_annotation(x=xp, xref="paper", y=label_y, yref="paper",
                       text=lab, showarrow=False, xshift=-3,
                       font=dict(family="Lato, Carlito, Calibri, sans-serif", size=47, color="black"),
                       bgcolor=YELLOW if boxed else "rgba(0,0,0,0)",
                       width=240 if boxed else None, height=72 if boxed else None,
                       xanchor="center", yanchor="middle")

fig.update_layout(
    width=FIG_W, height=FIG_H,
    margin=dict(l=M_L, r=M_R, t=M_T, b=M_B),
    paper_bgcolor="white", plot_bgcolor=YELLOW,
    showlegend=False, barmode="overlay",
)

fig.write_html("out.html")
